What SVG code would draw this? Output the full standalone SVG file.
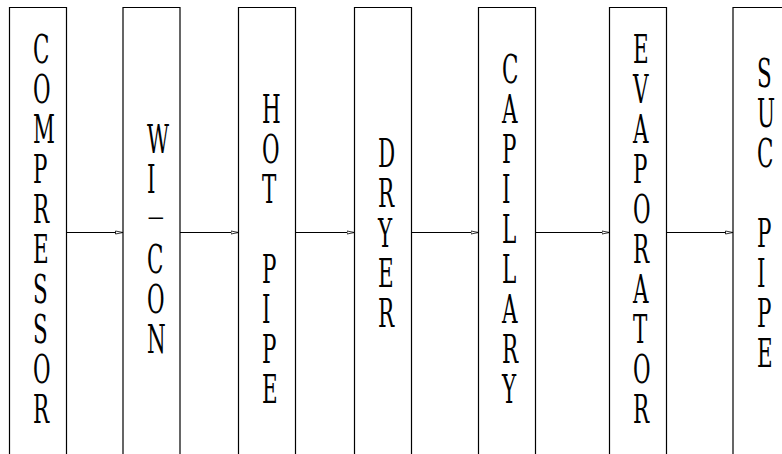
<svg xmlns="http://www.w3.org/2000/svg" width="782" height="454" viewBox="0 0 782 454">
<style>
.box{fill:none;stroke:#000;stroke-width:1.2}
.t{font-family:'DejaVu Serif',serif;font-size:33px;fill:#000}
.d{font-family:'DejaVu Serif',serif;font-size:20px;fill:#000}
.c{stroke:#000;stroke-width:1;fill:none}
</style>
<defs>
<marker id="ah" markerWidth="10" markerHeight="6" refX="8" refY="3" orient="auto" markerUnits="userSpaceOnUse">
<path d="M0.5,1.5 L8,3 L0.5,4.5 Z" fill="#fff" stroke="#000" stroke-width="0.8"/>
</marker>
</defs>
<rect width="782" height="454" fill="#fff"/>
<g id="compressor">
<path class="box" d="M9.5,454 V7.5 H66.5 V454"/>
<text class="t" transform="translate(33,0) scale(0.65,1.19)"><tspan x="0" y="52.94">C</tspan><tspan x="0" y="86.55">O</tspan><tspan x="0" y="120.17">M</tspan><tspan x="0" y="153.78">P</tspan><tspan x="0" y="187.39">R</tspan><tspan x="0" y="221.01">E</tspan><tspan x="0" y="254.62">S</tspan><tspan x="0" y="288.24">S</tspan><tspan x="0" y="321.85">O</tspan><tspan x="0" y="355.46">R</tspan></text>
</g>
<g id="wicon">
<path class="box" d="M123,454 V7.5 H180 V454"/>
<text class="t" transform="translate(147,0) scale(0.65,1.19)"><tspan x="0" y="128.57">W</tspan><tspan x="0" y="162.18">I</tspan></text>
<text class="d" transform="translate(146,0) scale(2.9,1)" x="0" y="224.5">-</text>
<text class="t" transform="translate(147,0) scale(0.65,1.19)"><tspan x="0" y="229.41">C</tspan><tspan x="0" y="263.03">O</tspan><tspan x="0" y="296.64">N</tspan></text>
</g>
<g id="hotpipe">
<path class="box" d="M238.5,454 V7.5 H295.5 V454"/>
<text class="t" transform="translate(262,0) scale(0.65,1.19)"><tspan x="0" y="103.36">H</tspan><tspan x="0" y="136.97">O</tspan><tspan x="0" y="170.59">T</tspan><tspan x="0" y="237.82">P</tspan><tspan x="0" y="271.43">I</tspan><tspan x="0" y="305.04">P</tspan><tspan x="0" y="338.66">E</tspan></text>
</g>
<g id="dryer">
<path class="box" d="M354.5,454 V7.5 H411.5 V454"/>
<text class="t" transform="translate(378,0) scale(0.65,1.19)"><tspan x="0" y="140.34">D</tspan><tspan x="0" y="173.95">R</tspan><tspan x="0" y="207.56">Y</tspan><tspan x="0" y="241.18">E</tspan><tspan x="0" y="274.79">R</tspan></text>
</g>
<g id="capillary">
<path class="box" d="M478.5,454 V7.5 H535.5 V454"/>
<text class="t" transform="translate(502,0) scale(0.65,1.19)"><tspan x="0" y="69.75">C</tspan><tspan x="0" y="103.36">A</tspan><tspan x="0" y="136.97">P</tspan><tspan x="0" y="170.59">I</tspan><tspan x="0" y="204.20">L</tspan><tspan x="0" y="237.82">L</tspan><tspan x="0" y="271.43">A</tspan><tspan x="0" y="305.04">R</tspan><tspan x="0" y="338.66">Y</tspan></text>
</g>
<g id="evaporator">
<path class="box" d="M609.5,454 V7.5 H666.5 V454"/>
<text class="t" transform="translate(633,0) scale(0.65,1.19)"><tspan x="0" y="52.94">E</tspan><tspan x="0" y="86.55">V</tspan><tspan x="0" y="120.17">A</tspan><tspan x="0" y="153.78">P</tspan><tspan x="0" y="187.39">O</tspan><tspan x="0" y="221.01">R</tspan><tspan x="0" y="254.62">A</tspan><tspan x="0" y="288.24">T</tspan><tspan x="0" y="321.85">O</tspan><tspan x="0" y="355.46">R</tspan></text>
</g>
<g id="sucpipe">
<path class="box" d="M733,454 V7.5 H782"/>
<text class="t" transform="translate(757,0) scale(0.65,1.19)"><tspan x="0" y="73.11">S</tspan><tspan x="0" y="106.72">U</tspan><tspan x="0" y="140.34">C</tspan><tspan x="0" y="207.56">P</tspan><tspan x="0" y="241.18">I</tspan><tspan x="0" y="274.79">P</tspan><tspan x="0" y="308.40">E</tspan></text>
</g>
<g id="connectors">
<line class="c" x1="66.5" y1="232.5" x2="123" y2="232.5" marker-end="url(#ah)"/>
<line class="c" x1="180" y1="232.5" x2="238.5" y2="232.5" marker-end="url(#ah)"/>
<line class="c" x1="295.5" y1="232.5" x2="354.5" y2="232.5" marker-end="url(#ah)"/>
<line class="c" x1="411.5" y1="232.5" x2="478.5" y2="232.5" marker-end="url(#ah)"/>
<line class="c" x1="535.5" y1="232.5" x2="609.5" y2="232.5" marker-end="url(#ah)"/>
<line class="c" x1="666.5" y1="232.5" x2="733" y2="232.5" marker-end="url(#ah)"/>
</g>
</svg>
